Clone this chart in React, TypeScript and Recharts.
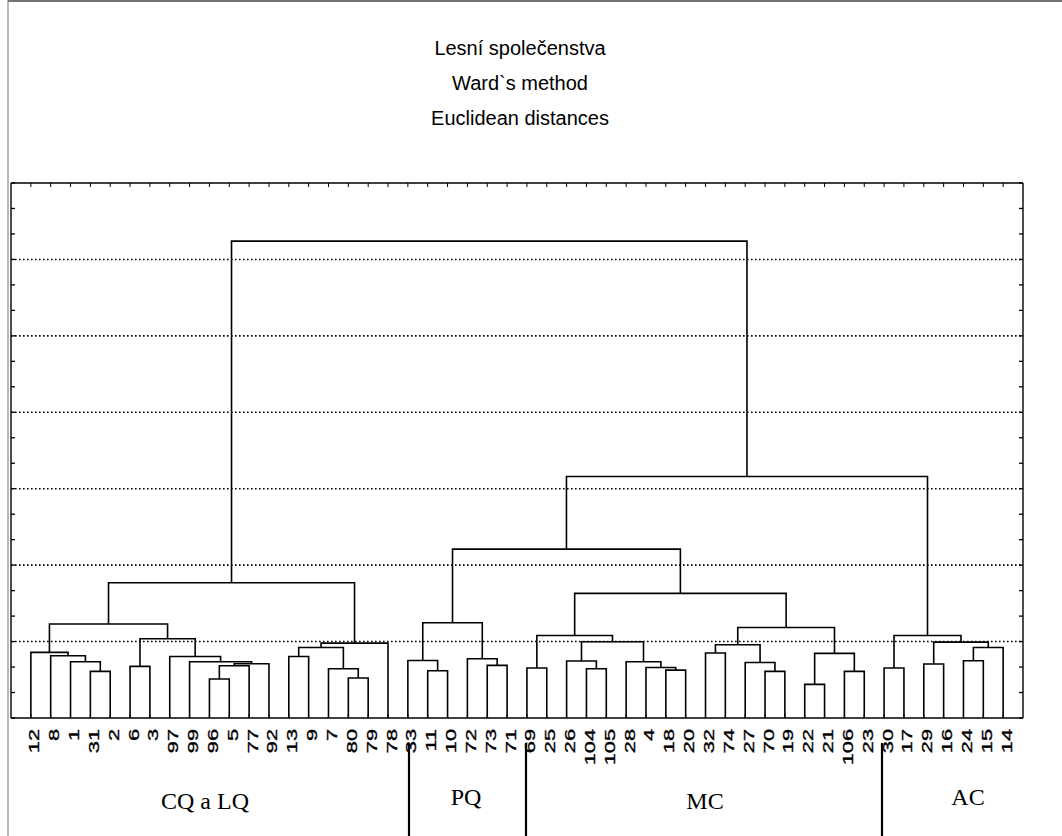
import React from 'react';
import { ComposedChart, Line, XAxis, YAxis, ReferenceLine } from 'recharts';

// leaf order along the x axis
const LEAVES = [
  '12', '8', '1', '31', '2', '6', '3', '97', '99', '96', '5', '77', '92', '13', '9', '7', '80', '79', '78',
  '33', '11', '10', '72', '73', '71',
  '69', '25', '26', '104', '105', '28', '4', '18', '20', '32', '74', '27', '70', '19', '22', '21', '106', '23',
  '30', '17', '29', '16', '24', '15', '14',
];

// [cluster, left child, right child, linkage distance]
const MERGES: [string, string, string, number][] = [
  ['n1', '31', '2', 0.61],
  ['n2', '1', 'n1', 0.736],
  ['n3', '8', 'n2', 0.814],
  ['n4', '12', 'n3', 0.858],
  ['n5', '6', '3', 0.675],
  ['n6', '96', '5', 0.51],
  ['n7', 'n6', '77', 0.684],
  ['n8', 'n7', '92', 0.71],
  ['n9', '99', 'n8', 0.736],
  ['n10', '97', 'n9', 0.805],
  ['n11', 'n5', 'n10', 1.037],
  ['n12', 'n4', 'n11', 1.23],
  ['n13', '13', '9', 0.805],
  ['n14', '80', '79', 0.523],
  ['n15', '7', 'n14', 0.644],
  ['n16', 'n13', 'n15', 0.923],
  ['n17', 'n16', '78', 0.98],
  ['n18', 'n12', 'n17', 1.77],
  ['n19', '11', '10', 0.618],
  ['n20', '33', 'n19', 0.753],
  ['n21', '73', '71', 0.688],
  ['n22', '72', 'n21', 0.775],
  ['n23', 'n20', 'n22', 1.246],
  ['n24', '69', '25', 0.654],
  ['n25', '104', '105', 0.644],
  ['n26', '26', 'n25', 0.745],
  ['n27', '18', '20', 0.627],
  ['n28', '4', 'n27', 0.661],
  ['n29', '28', 'n28', 0.736],
  ['n30', 'n26', 'n29', 0.997],
  ['n31', 'n24', 'n30', 1.08],
  ['n32', '32', '74', 0.85],
  ['n33', '70', '19', 0.61],
  ['n34', '27', 'n33', 0.727],
  ['n35', 'n32', 'n34', 0.958],
  ['n36', '22', '21', 0.44],
  ['n37', '106', '23', 0.61],
  ['n38', 'n36', 'n37', 0.845],
  ['n39', 'n35', 'n38', 1.184],
  ['n40', 'n31', 'n39', 1.63],
  ['n41', 'n23', 'n40', 2.21],
  ['n42', '30', '17', 0.654],
  ['n43', '29', '16', 0.706],
  ['n44', '24', '15', 0.749],
  ['n45', 'n44', '14', 0.923],
  ['n46', 'n43', 'n45', 0.993],
  ['n47', 'n42', 'n46', 1.08],
  ['n48', 'n41', 'n47', 3.16],
  ['n49', 'n18', 'n48', 6.24],
];

const TITLE_LINES = ['Lesní společenstva', 'Ward`s method', 'Euclidean distances'];
const GROUPS = ['CQ a LQ', 'PQ', 'MC', 'AC'];
const GRID_VALUES = [1, 2, 3, 4, 5, 6];
const Y_MAX = 7;

// x of a leaf = its index, x of a cluster = middle of its two children
const pos: Record<string, { x: number; y: number }> = {};
LEAVES.forEach((l, i) => { pos[l] = { x: i, y: 0 }; });
const segments = MERGES.map(([id, a, b, h]) => {
  const A = pos[a];
  const B = pos[b];
  pos[id] = { x: (A.x + B.x) / 2, y: h };
  return {
    id,
    points: [
      { x: A.x, y: A.y },
      { x: A.x, y: h },
      { x: B.x, y: h },
      { x: B.x, y: B.y },
    ],
  };
});

const leafTicks = LEAVES.map((_, i) => i);
const yTicks = Array.from({ length: Y_MAX * 3 + 1 }, (_, i) => i / 3);

const groupX = [205, 466, 705, 968];
const groupY = [809, 805, 809, 805];
const separatorsX = [409, 526, 882];

const sans = '"Liberation Sans", Arial, sans-serif';
const serif = '"Liberation Serif", "Times New Roman", serif';

function LeafLabel(p: any) {
  return (
    <g>
      <line x1={p.x} x2={p.x} y1={p.y} y2={p.y - 4} stroke="#000" />
      <text
        transform={`translate(${p.x + 8.5},${p.y + 11}) rotate(-90) scale(1.45,1)`}
        textAnchor="end"
        fontSize={15}
        fontFamily={sans}
        fill="#000"
        stroke="#000"
        strokeWidth={0.35}
      >
        {LEAVES[p.payload.value]}
      </text>
    </g>
  );
}

const TopTick = (p: any) => <line x1={p.x} x2={p.x} y1={p.y} y2={p.y + 4} stroke="#000" />;
const LeftTick = (p: any) => <line x1={p.x} x2={p.x + 4} y1={p.y} y2={p.y} stroke="#000" strokeWidth={1.3} />;
const RightTick = (p: any) => <line x1={p.x - 4} x2={p.x} y1={p.y} y2={p.y} stroke="#000" strokeWidth={1.3} />;

export default function App() {
  const axisLine = { stroke: '#000', strokeWidth: 1.4 };
  return (
    <div style={{ position: 'absolute', left: 0, top: 0, width: 1062, height: 836, background: '#fff', overflow: 'hidden' }}>
      <ComposedChart width={1062} height={836} margin={{ top: 182, right: 38, bottom: 78, left: 10 }}>
        <XAxis
          xAxisId="b" type="number" dataKey="x" domain={[-1, LEAVES.length]} allowDataOverflow
          ticks={leafTicks} interval={0} height={40} tickSize={0} tickMargin={0} tickLine={false}
          axisLine={axisLine} tick={(p: any) => <LeafLabel {...p} />}
        />
        <XAxis
          xAxisId="t" orientation="top" type="number" dataKey="x" domain={[-1, LEAVES.length]} allowDataOverflow
          ticks={leafTicks} interval={0} height={1} tickSize={0} tickMargin={0} tickLine={false}
          axisLine={axisLine} tick={(p: any) => <TopTick {...p} />}
        />
        <YAxis
          yAxisId="l" type="number" domain={[0, Y_MAX]} allowDataOverflow ticks={yTicks} interval={0}
          width={1} tickSize={0} tickMargin={0} tickLine={false} axisLine={axisLine}
          tick={(p: any) => <LeftTick {...p} />}
        />
        <YAxis
          yAxisId="r" orientation="right" type="number" domain={[0, Y_MAX]} allowDataOverflow ticks={yTicks} interval={0}
          width={1} tickSize={0} tickMargin={0} tickLine={false} axisLine={axisLine}
          tick={(p: any) => <RightTick {...p} />}
        />
        {GRID_VALUES.map((v) => (
          <ReferenceLine
            key={v} xAxisId="b" yAxisId="l" y={v}
            stroke="#000" strokeWidth={1.6} strokeDasharray="1.6 2.4"
          />
        ))}
        {segments.map((s) => (
          <Line
            key={s.id} xAxisId="b" yAxisId="l" data={s.points} dataKey="y" type="linear"
            stroke="#000" strokeWidth={1.6} dot={false} activeDot={false} isAnimationActive={false}
          />
        ))}
      </ComposedChart>
      <svg width={1062} height={836} style={{ position: 'absolute', left: 0, top: 0, pointerEvents: 'none' }}>
        <line x1={8} x2={1062} y1={1} y2={1} stroke="#444" strokeWidth={1.5} />
        <line x1={8} x2={8} y1={0} y2={836} stroke="#777" strokeWidth={1} />
        {TITLE_LINES.map((t, i) => (
          <text key={t} x={520} y={55 + i * 35} textAnchor="middle" fontSize={20} fontFamily={sans} fill="#000">
            {t}
          </text>
        ))}
        {GROUPS.map((g, i) => (
          <text key={g} x={groupX[i]} y={groupY[i]} textAnchor="middle" fontSize={24} fontFamily={serif} fill="#000">
            {g}
          </text>
        ))}
        {separatorsX.map((x) => (
          <line key={x} x1={x} x2={x} y1={743} y2={836} stroke="#000" strokeWidth={2.2} />
        ))}
      </svg>
    </div>
  );
}
